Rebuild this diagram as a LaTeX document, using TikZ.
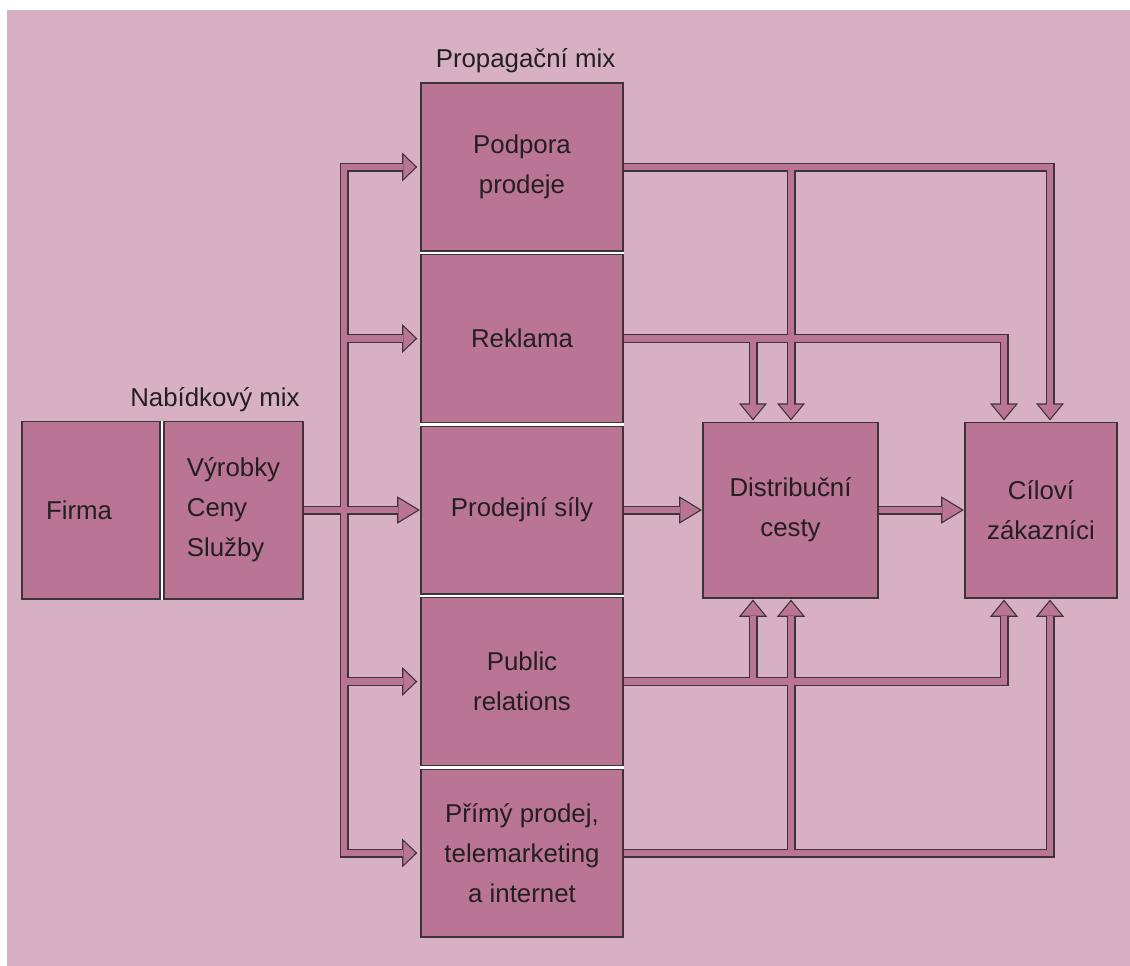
\documentclass[tikz,border=0pt]{standalone}
\usepackage{fontspec}
\setmainfont{Liberation Sans}
\usetikzlibrary{calc,backgrounds}
\definecolor{bgpink}{HTML}{D8B0C4}
\definecolor{boxpink}{HTML}{BA7494}
\definecolor{edge}{HTML}{3C3538}
\definecolor{ink}{HTML}{231F20}
\tikzset{
  box/.style={draw=edge,line width=0.6pt,fill=boxpink,inner sep=0pt,align=center,text=ink,
    font=\fontsize{14.7}{22.7}\selectfont},
  promo/.style={box,minimum width=4.04cm,minimum height=3.36cm},
  title/.style={text=ink,font=\fontsize{14.7}{17}\selectfont,inner sep=0pt,anchor=base},
}
% hroty sipek (souradnice v pixelech, y dolu)
\newcommand\headr[2]{\path[head] (#1) ++(0,-11.5) -- ++(#2,11.5) -- ++(-#2,11.5) -- cycle;}
\newcommand\headd[1]{\path[head] (#1) ++(-11.5,0) -- ++(11.5,14) -- ++(11.5,-14) -- cycle;}
\newcommand\headu[1]{\path[head] (#1) ++(-11.5,0) -- ++(11.5,-14) -- ++(11.5,14) -- cycle;}
% cela sit trubek, kresli se dvakrat (obrys, pak vypln)
\newcommand\pipenet{%
  % vlevo
  \draw[pipe] (nabidka.east) -- (lp3);
  \draw[pipe] (lp1) -| (trunk) |- (lp5);
  \draw[pipe] (trunk |- lp2) -- (lp2);
  \draw[pipe] (trunk |- lp4) -- (lp4);
  % vpravo nahore
  \draw[pipe] (podpora.east) -| (cn2);
  \draw[pipe] (dn2 |- podpora.east) -- (dn2);
  \draw[pipe] (reklama.east) -| (cn1);
  \draw[pipe] (dn1 |- reklama.east) -- (dn1);
  % stred
  \draw[pipe] (prodejni.east) -- (dw);
  \draw[pipe] (distrib.east) -- (cw);
  % vpravo dole
  \draw[pipe] (pr.east) -| (cs1);
  \draw[pipe] (ds1 |- pr.east) -- (ds1);
  \draw[pipe] (primy.east) -| (cs2);
  \draw[pipe] (ds2 |- primy.east) -- (ds2);
  % hroty
  \headr{lp1}{12} \headr{lp2}{12} \headr{lp3}{19} \headr{lp4}{12} \headr{lp5}{12}
  \headr{dw}{19} \headr{cw}{19}
  \headd{dn1} \headd{dn2} \headd{cn1} \headd{cn2}
  \headu{ds1} \headu{ds2} \headu{cs1} \headu{cs2}
}
\begin{document}
\begin{tikzpicture}[x=0.02cm,y=-0.02cm]
\useasboundingbox (0,0) rectangle (1130,965);
% bloky
\node[box,minimum width=2.76cm,minimum height=3.56cm,text width=1.8cm,inner xsep=0.48cm,align=left]
  (firma) at (91,510) {Firma};
\node[box,minimum width=2.78cm,minimum height=3.56cm,align=left]
  (nabidka) at (233.5,510) {Výrobky\\Ceny\\Služby};
\node[promo] (podpora) at (522,167) {Podpora\\prodeje};
\node[promo] (reklama) at (522,338.5) {Reklama};
\node[promo] (prodejni) at (522,510) {Prodejní síly};
\node[promo] (pr) at (522,681.5) {Public\\relations};
\node[promo] (primy) at (522,853) {Přímý prodej,\\telemarketing\\a internet};
\node[box,minimum width=3.5cm,minimum height=3.52cm] (distrib) at (790.5,510) {Distribuční\\cesty};
\node[box,minimum width=3.04cm,minimum height=3.52cm] (cil) at (1041,510) {Cíloví\\zákazníci};
% nadpisy
\node[title] (nabmix) at (215,406) {Nabídkový mix};
\node[title] (propmix) at (525.5,67) {Propagační mix};
% pozadi
\begin{scope}[on background layer]
  \fill[white] (-10,-10) rectangle (1140,975);
  \fill[bgpink] (7,10) rectangle (1140,975);
  \fill[white] (firma.north west) rectangle (nabidka.south east);
  \fill[white] (podpora.north west) rectangle (primy.south east);
\end{scope}
% body trubek
\coordinate (trunk) at (344,510);
\coordinate (lp1) at ($(podpora.west)+(-17,0)$);
\coordinate (lp2) at ($(reklama.west)+(-17,0)$);
\coordinate (lp3) at ($(prodejni.west)+(-22,0)$);
\coordinate (lp4) at ($(pr.west)+(-17,0)$);
\coordinate (lp5) at ($(primy.west)+(-17,0)$);
\coordinate (dw) at ($(distrib.west)+(-22,0)$);
\coordinate (cw) at ($(cil.west)+(-22,0)$);
\coordinate (dn1) at ($(distrib.north)+(-37.5,-17)$);
\coordinate (dn2) at ($(distrib.north)+(0.5,-17)$);
\coordinate (cn1) at ($(cil.north)+(-37,-17)$);
\coordinate (cn2) at ($(cil.north)+(9,-17)$);
\coordinate (ds1) at ($(distrib.south)+(-37.5,17)$);
\coordinate (ds2) at ($(distrib.south)+(0.5,17)$);
\coordinate (cs1) at ($(cil.south)+(-37,17)$);
\coordinate (cs2) at ($(cil.south)+(9,17)$);
\begin{scope}[pipe/.style={draw=edge,line width=0.18cm,line join=miter},
              head/.style={fill=edge,draw=edge,line width=0.05cm,line join=miter}]
  \pipenet
\end{scope}
\begin{scope}[pipe/.style={draw=boxpink,line width=0.13cm,line join=miter},
              head/.style={fill=boxpink}]
  \pipenet
\end{scope}
\end{tikzpicture}
\end{document}
